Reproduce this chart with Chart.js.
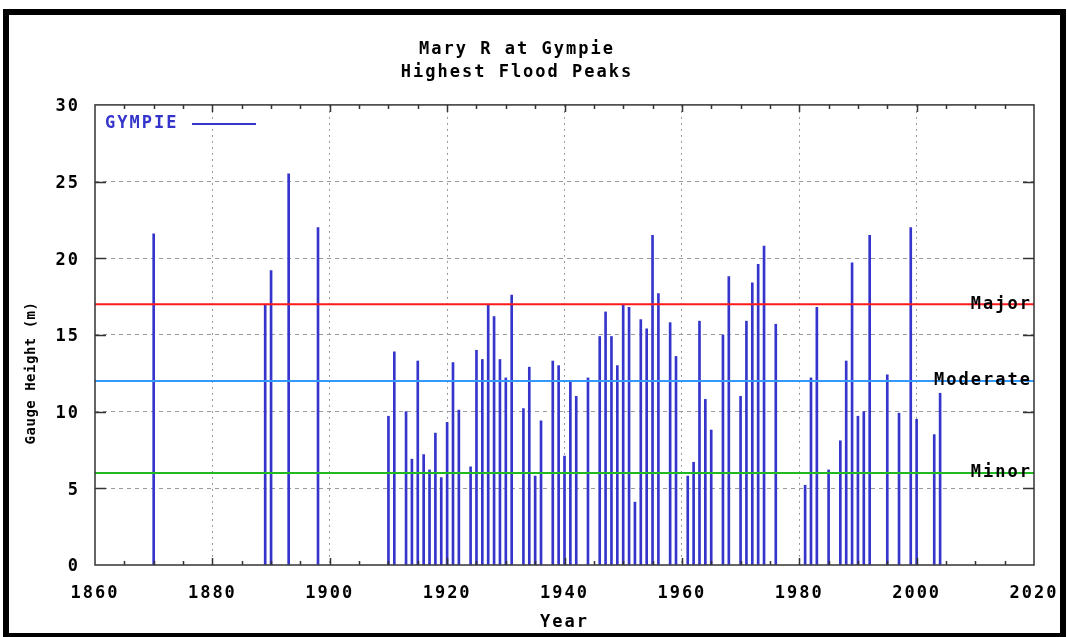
<!DOCTYPE html>
<html>
<head>
<meta charset="utf-8">
<title>Mary R at Gympie - Highest Flood Peaks</title>
<script src="https://cdn.jsdelivr.net/npm/chart.js@4/dist/chart.umd.min.js"></script>
<style>
  html, body { margin: 0; padding: 0; background: #fff; }
  #wrap { position: relative; width: 1067px; height: 637px; overflow: hidden; }
  #wrap canvas { position: absolute; left: 0; top: 0; }
  #frame { position: absolute; left: 3px; top: 9px; width: 1051px; height: 618px;
           border: 6px solid #000; pointer-events: none; }
</style>
</head>
<body>
<div id="wrap">
  <canvas id="flood-chart" width="1067" height="637"></canvas>
  <div id="frame"></div>
</div>
<script>
// flood peak per year (m)
const years = [1870, 1889, 1890, 1893, 1898,
  1910, 1911, 1913, 1914, 1915, 1916, 1917, 1918, 1919, 1920, 1921, 1922, 1924, 1925,
  1926, 1927, 1928, 1929, 1930, 1931, 1933, 1934, 1935, 1936, 1938, 1939, 1940, 1941,
  1942, 1944, 1946, 1947, 1948, 1949, 1950, 1951, 1952, 1953, 1954, 1955, 1956, 1958,
  1959, 1961, 1962, 1963, 1964, 1965, 1967, 1968, 1970, 1971, 1972, 1973, 1974, 1976,
  1981, 1982, 1983, 1985, 1987, 1988, 1989, 1990, 1991, 1992, 1995, 1997, 1999, 2000,
  2003, 2004];
const peaks = [21.6, 17.0, 19.2, 25.5, 22.0,
  9.7, 13.9, 10.0, 6.9, 13.3, 7.2, 6.2, 8.6, 5.7, 9.3, 13.2, 10.1, 6.4, 14.0,
  13.4, 17.0, 16.2, 13.4, 12.2, 17.6, 10.2, 12.9, 5.8, 9.4, 13.3, 13.0, 7.1, 12.0,
  11.0, 12.2, 14.9, 16.5, 14.9, 13.0, 17.0, 16.8, 4.1, 16.0, 15.4, 21.5, 17.7, 15.8,
  13.6, 5.8, 6.7, 15.9, 10.8, 8.8, 15.0, 18.8, 11.0, 15.9, 18.4, 19.6, 20.8, 15.7,
  5.2, 12.2, 16.8, 6.2, 8.1, 13.3, 19.7, 9.7, 10.0, 21.5, 12.4, 9.9, 22.0, 9.5,
  8.5, 11.2];

// flood classification levels
const levelNames   = ['Major', 'Moderate', 'Minor'];
const levelHeights = [17, 12, 6];

const xRange = [1860, 2020];
const yRange = [0, 30];

const MONO = "'DejaVu Sans Mono', monospace";
const BAR_BLUE = '#3535cc';
const levelColors = ['#ff1a1a', '#3399ff', '#22b822'];

const font = (size, weight = 'bold') => ({ family: MONO, size, weight, lineHeight: 1.2 });

// gnuplot-ish frame, inward tics, level labels, legend, y title
const gnuplotBits = {
  id: 'gnuplotBits',
  beforeUpdate(chart) { chart.ctx.letterSpacing = '2px'; },
  beforeDraw(chart)   { chart.ctx.letterSpacing = '2px'; },
  afterDatasetsDraw(chart) {
    const { ctx, chartArea: a, scales: { x, y } } = chart;
    ctx.save();

    // frame
    ctx.strokeStyle = '#333';
    ctx.lineWidth = 1.5;
    ctx.strokeRect(a.left, a.top, a.right - a.left, a.bottom - a.top);

    // tics
    ctx.lineWidth = 1.5;
    ctx.beginPath();
    for (let v = x.min + 5; v < x.max; v += 5) {
      const px = Math.round(x.getPixelForValue(v)) + 0.5;
      const len = v % 20 === 0 ? 7 : 4;
      ctx.moveTo(px, a.bottom); ctx.lineTo(px, a.bottom - len);
      ctx.moveTo(px, a.top);    ctx.lineTo(px, a.top + len);
    }
    for (let v = y.min + 5; v < y.max; v += 5) {
      const py = Math.round(y.getPixelForValue(v)) + 0.5;
      ctx.moveTo(a.left, py);  ctx.lineTo(a.left + 11, py);
      ctx.moveTo(a.right, py); ctx.lineTo(a.right - 11, py);
    }
    ctx.stroke();

    // level labels
    ctx.letterSpacing = '2px';
    ctx.font = `bold 17px ${MONO}`;
    ctx.fillStyle = '#000';
    ctx.textAlign = 'right';
    ctx.textBaseline = 'middle';
    levelNames.forEach((name, i) => {
      ctx.fillText(name, a.right - 2, y.getPixelForValue(levelHeights[i]));
    });

    // legend: label then line sample
    const ds = chart.data.datasets.find(d => d.type === 'bar');
    const ly = a.top + 19;
    ctx.fillStyle = ds.backgroundColor;
    ctx.textAlign = 'left';
    ctx.fillText(ds.label, a.left + 10, ly);
    ctx.strokeStyle = ds.backgroundColor;
    ctx.lineWidth = 2;
    ctx.beginPath();
    ctx.moveTo(a.left + 97, ly);
    ctx.lineTo(a.left + 161, ly);
    ctx.stroke();

    // y axis title (narrower face in the original)
    ctx.letterSpacing = '0.5px';
    ctx.font = `bold 14px ${MONO}`;
    ctx.fillStyle = '#000';
    ctx.textAlign = 'center';
    ctx.translate(31, (a.top + a.bottom) / 2 + 38);
    ctx.rotate(-Math.PI / 2);
    ctx.fillText('Gauge Height (m)', 0, 0);

    ctx.restore();
    ctx.letterSpacing = '2px';
  }
};

const edgeless = (lo, hi) => c => {
  const v = c.tick ? c.tick.value : null;
  return (v === lo || v === hi) ? 'rgba(0,0,0,0)' : '#9a9a9a';
};

const levelSets = levelNames.map((name, i) => ({
  type: 'line',
  label: name,
  data: xRange.map(v => ({ x: v, y: levelHeights[i] })),
  borderColor: levelColors[i],
  borderWidth: 2,
  pointRadius: 0,
  order: 0
}));

new Chart(document.getElementById('flood-chart'), {
  data: {
    datasets: [
      {
        type: 'bar',
        label: 'GYMPIE',
        data: years.map((yr, i) => ({ x: yr, y: peaks[i] })),
        backgroundColor: BAR_BLUE,
        borderWidth: 0,
        barThickness: 2,
        grouped: false,
        order: 1
      },
      ...levelSets
    ]
  },
  options: {
    responsive: false,
    animation: false,
    events: [],
    layout: { padding: { left: 0, right: 33, top: 0, bottom: 0 } },
    plugins: {
      legend: { display: false },
      tooltip: { enabled: false },
      title: {
        display: true,
        text: ['Mary R at Gympie', 'Highest Flood Peaks'],
        color: '#000',
        font: { family: MONO, size: 17, weight: 'bold', lineHeight: 1.35 },
        padding: { top: 38, bottom: 21 }
      }
    },
    scales: {
      x: {
        type: 'linear',
        offset: false,
        min: xRange[0], max: xRange[1],
        ticks: { stepSize: 20, color: '#000', font: font(17), padding: 18, callback: v => String(v) },
        grid: { offset: false, color: edgeless(xRange[0], xRange[1]), lineWidth: 1, drawTicks: false },
        border: { display: false, dash: [2, 4] },
        title: { display: true, text: 'Year', color: '#000', font: font(17), padding: { top: 0, bottom: 4 } },
        afterFit: s => { s.height = 72; s.paddingLeft = 0; s.paddingRight = 0; }
      },
      y: {
        min: yRange[0], max: yRange[1],
        ticks: { stepSize: 5, color: '#000', font: font(17), padding: 15, labelOffset: 2 },
        grid: { color: edgeless(yRange[0], yRange[1]), lineWidth: 1, drawTicks: false },
        border: { display: false, dash: [4, 4] },
        afterFit: s => { s.width = 95; }
      }
    }
  },
  plugins: [gnuplotBits]
});
</script>
</body>
</html>
